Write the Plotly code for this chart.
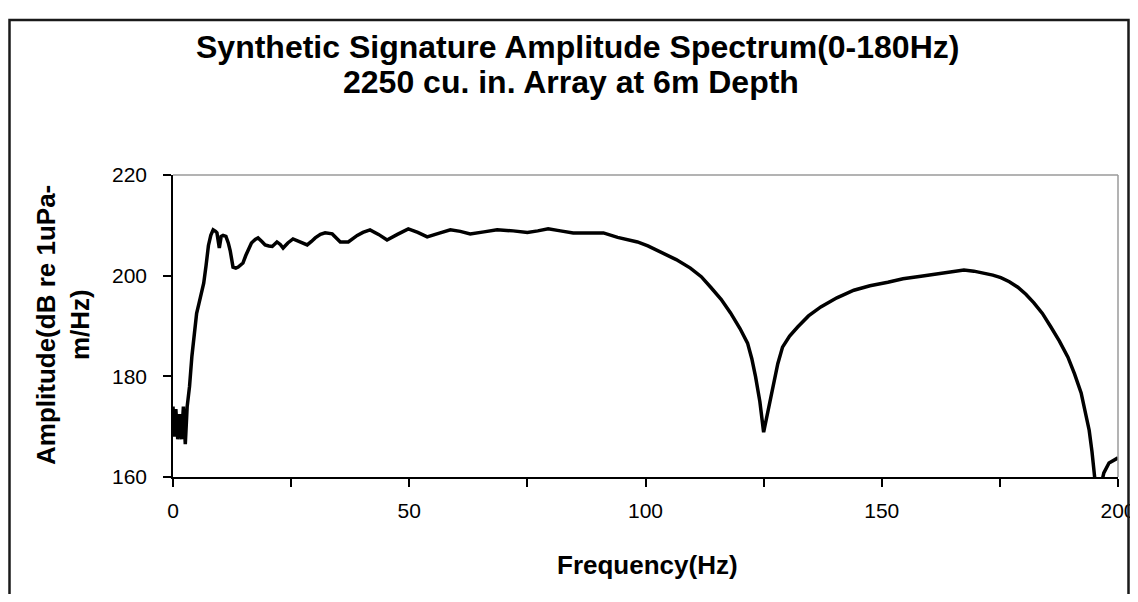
import plotly.graph_objects as go

# ---- data ----
freq_hz = [0.0, 0.3, 0.6, 1.0, 1.4, 1.8, 2.2, 2.6, 3.0, 3.5, 4.0, 4.5, 5.0, 5.5, 6.0, 6.5,
           7.0, 7.5, 8.0, 8.5, 9.0, 9.3, 9.8, 10.2, 10.6, 11.2, 11.7, 12.1, 12.7, 13.3, 13.8,
           14.8, 15.4, 15.9, 16.6, 17.4, 18.0, 18.8, 19.5, 20.3, 21.0, 22.0, 22.7, 23.3, 24.3,
           25.4, 26.9, 28.4, 29.3, 30.1, 31.2, 32.2, 33.7, 34.6, 35.4, 37.1, 39.0, 40.2, 41.7,
           43.5, 45.3, 47.5, 49.8, 51.8, 53.8, 56.2, 58.7, 60.8, 62.9, 65.8, 68.6, 72.0, 75.0,
           77.2, 79.4, 82.0, 84.7, 88.0, 91.1, 94.1, 96.5, 98.3, 100.5, 103.2, 106.5, 109.5,
           111.8, 113.8, 116.0, 118.0, 120.0, 121.6, 122.5, 123.3, 124.2, 125.0, 126.0, 126.9,
           128.0, 129.0, 130.5, 132.2, 134.5, 137.1, 140.5, 144.1, 147.5, 151.3, 154.5, 158.3,
           162.5, 165.0, 167.4, 169.5, 171.6, 173.5, 175.2, 177.0, 178.8, 180.5, 182.2, 184.0,
           185.8, 187.6, 189.4, 190.8, 192.2, 193.1, 193.9, 194.5, 194.9, 195.5, 196.3, 197.0,
           198.1, 200.0]
amplitude_db = [174.0, 168.0, 173.5, 167.5, 172.5, 167.5, 174.0, 166.5, 174.0, 178.0, 184.0,
                188.5, 192.5, 194.5, 196.5, 198.5, 202.0, 206.0, 208.0, 209.1, 208.8, 208.5,
                205.5, 207.8, 208.0, 207.8, 206.5, 205.0, 201.7, 201.5, 201.7, 202.5, 204.0,
                205.2, 206.5, 207.2, 207.5, 206.8, 206.1, 205.9, 205.8, 206.7, 206.2, 205.5,
                206.5, 207.3, 206.7, 206.1, 206.8, 207.5, 208.2, 208.5, 208.3, 207.5, 206.7,
                206.7, 208.0, 208.6, 209.1, 208.2, 207.1, 208.2, 209.3, 208.6, 207.7, 208.4,
                209.1, 208.8, 208.3, 208.7, 209.1, 208.9, 208.6, 208.9, 209.3, 208.9, 208.5,
                208.5, 208.5, 207.6, 207.1, 206.7, 205.9, 204.7, 203.2, 201.5, 199.8, 197.7,
                195.3, 192.6, 189.5, 186.6, 183.5, 179.9, 175.0, 168.9, 173.5, 177.9, 182.5,
                185.8, 188.0, 189.8, 192.0, 193.8, 195.6, 197.1, 198.0, 198.7, 199.4, 199.9,
                200.5, 200.9, 201.1, 200.9, 200.5, 200.1, 199.6, 198.8, 197.7, 196.3, 194.6,
                192.5, 189.8, 187.0, 183.8, 180.5, 176.7, 173.0, 169.3, 165.0, 160.5, 156.0,
                158.0, 160.8, 162.8, 163.8]

title_lines = ["Synthetic Signature Amplitude Spectrum(0-180Hz)", "2250 cu. in. Array at 6m Depth"]
x_title = "Frequency(Hz)"
y_title_lines = ["Amplitude(dB re 1uPa-", "m/Hz)"]

W, H = 1138, 602
OFF = 8  # default page body margin
FIG_W, FIG_H = W - 2 * OFF, H - 2 * OFF
L, R, T, B = 173, 1118, 175, 477  # plot-area pixel box (page coordinates)
PW, PH = R - L, B - T


def px(p):
    return (p - L) / PW


def py(p):
    return (B - p) / PH


FONT = "Liberation Sans, Arial, sans-serif"

fig = go.Figure()
fig.add_trace(go.Scatter(x=freq_hz, y=amplitude_db, mode="lines",
                         line=dict(color="black", width=3.5), showlegend=False,
                         hoverinfo="x+y"))

fig.update_layout(
    width=FIG_W, height=FIG_H,
    margin=dict(l=L - OFF, r=(FIG_W + OFF) - R, t=T - OFF, b=(FIG_H + OFF) - B),
    paper_bgcolor="white", plot_bgcolor="white",
    font=dict(family=FONT, color="black"),
    showlegend=False,
)
fig.update_xaxes(range=[0, 200], dtick=50, tick0=0, showgrid=False, zeroline=False,
                 showline=True, linecolor="black", linewidth=1.5, automargin=False,
                 ticks="outside", ticklen=8, tickcolor="black", tickwidth=1.5,
                 tickfont=dict(size=21, family=FONT), ticklabeloverflow="allow",
                 minor=dict(dtick=25, ticks="outside", ticklen=8, tickcolor="black", tickwidth=1.5),
                 ticklabelstandoff=6)
fig.update_yaxes(range=[160, 220], dtick=20, tick0=160, showgrid=False, zeroline=False,
                 showline=True, linecolor="black", linewidth=1.5, automargin=False,
                 ticks="outside", ticklen=8, tickcolor="black", tickwidth=1.5,
                 tickfont=dict(size=21, family=FONT), ticklabelstandoff=12)

# gray top/right plot border
fig.add_shape(type="line", xref="paper", yref="paper", x0=0, x1=1, y0=1, y1=1,
              line=dict(color="#9a9a9a", width=1.5))
fig.add_shape(type="line", xref="paper", yref="paper", x0=1, x1=1, y0=0, y1=1,
              line=dict(color="#9a9a9a", width=1.5))
# chart-area border (left, top, right)
bx0, bx1, by_top, by_bot = px(OFF + 1.5), px(FIG_W + OFF - 1.5), py(20), py(FIG_H + OFF + 10)
fig.add_shape(type="path", xref="paper", yref="paper",
              path=f"M {bx0} {by_bot} L {bx0} {by_top} L {bx1} {by_top} L {bx1} {by_bot}",
              line=dict(color="#1a1a1a", width=2.5))

ann = []
ann.append(dict(text=f"<b>{title_lines[0]}</b>", x=px(577), y=py(47), font=dict(size=32)))
ann.append(dict(text=f"<b>{title_lines[1]}</b>", x=px(571), y=py(82), font=dict(size=32)))
ann.append(dict(text=f"<b>{x_title}</b>", x=px(647), y=py(565), font=dict(size=26)))
ann.append(dict(text=f"<b>{y_title_lines[0]}</b>", x=px(46), y=py(325), font=dict(size=26),
                textangle=-90))
ann.append(dict(text=f"<b>{y_title_lines[1]}</b>", x=px(80), y=py(325), font=dict(size=26),
                textangle=-90))
for a in ann:
    a.update(xref="paper", yref="paper", xanchor="center", yanchor="middle",
             showarrow=False)
    a["font"].update(family=FONT, color="black")
fig.update_layout(annotations=ann)

fig.write_html("out.html")
